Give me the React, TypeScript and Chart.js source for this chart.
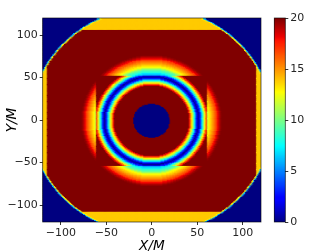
import React, { useEffect, useRef } from "react";
import { Chart, registerables } from "chart.js";

Chart.register(...registerables);

// Axis ticks
const xTicks = [-100, -50, 0, 50, 100];
const yTicks = [-100, -50, 0, 50, 100];
const cbTicks = [0, 5, 10, 15, 20];

// Field values, one entry per unit of radius
const innerRadiusStart = 40;
const innerProfile = [20, 20, 18.5, 16.5, 14.5, 13, 11, 9, 7, 5, 3, 1.5, 0.4, 1.5, 3, 5, 7, 9, 11, 13, 15, 17, 18.5, 20];
const outerRadiusStart = 50;
const outerProfile = [3, 3.5, 4, 5, 5.5, 6.5, 7, 8, 8.5, 9, 9.5, 10.5, 11.5, 12.5, 13, 13.5, 14, 14.5, 15, 15.5, 16, 16.5, 17, 18, 18.5, 19, 19.5, 19.8, 20];
const rimRadiusStart = 131;
const rimProfile = [20, 13, 6, 0];
const holeRadius = 20;
const bandValue = 13.9;
const innerBox = [61, 53];
const outerBox = [115, 107];
const gridHalf = 120;

// matplotlib jet stops: position, r, g, b
const jetStops = [
  [0, 0, 0, 0.5], [0.11, 0, 0, 1], [0.125, 0, 0, 1], [0.34, 0, 0.86, 1], [0.35, 0, 0.9, 1], [0.375, 0.0, 1, 1],
  [0.64, 1, 1, 0], [0.65, 1, 0.96, 0], [0.66, 1, 0.92, 0], [0.89, 1, 0.08, 0], [0.91, 0.93, 0, 0], [1, 0.5, 0, 0],
];

function jet(value: number): string {
  const t = Math.min(1, Math.max(0, value / 20));
  let i = 0;
  while (i < jetStops.length - 2 && t > jetStops[i + 1][0]) i++;
  const a = jetStops[i];
  const b = jetStops[i + 1];
  const f = (t - a[0]) / (b[0] - a[0] || 1);
  const c = [1, 2, 3].map((k) => Math.round(255 * (a[k] + (b[k] - a[k]) * f)));
  return `rgb(${c[0]},${c[1]},${c[2]})`;
}

function lookup(table: number[], start: number, r: number): number {
  const i = Math.round(r) - start;
  return table[Math.min(table.length - 1, Math.max(0, i))];
}

function cellValue(x: number, y: number): number {
  const r = Math.hypot(x, y);
  if (r <= holeRadius) return 0;
  let v: number;
  if (Math.abs(x) < innerBox[0] && Math.abs(y) < innerBox[1]) v = lookup(innerProfile, innerRadiusStart, r);
  else if (Math.abs(x) < outerBox[0] && Math.abs(y) < outerBox[1]) v = lookup(outerProfile, outerRadiusStart, r);
  else v = bandValue;
  if (r >= rimRadiusStart) v = Math.min(v, lookup(rimProfile, rimRadiusStart, r));
  return v;
}

const cells: { x: number; y: number }[] = [];
const cellColors: string[] = [];
for (let y = -gridHalf + 0.5; y < gridHalf; y++) {
  for (let x = -gridHalf + 0.5; x < gridHalf; x++) {
    cells.push({ x, y });
    cellColors.push(jet(cellValue(x, y)));
  }
}

const cbLevels: { x: number; y: number }[] = [];
for (let v = 0.05; v < 20; v += 0.1) cbLevels.push({ x: 1, y: v });

const fontFamily = "'DejaVu Sans'";
const frame = {
  id: "frame",
  afterDraw(chart: any) {
    const { left, top, width, height } = chart.chartArea;
    const ctx = chart.ctx;
    ctx.save();
    ctx.strokeStyle = "rgba(0,0,0,0.75)";
    ctx.lineWidth = 0.8;
    ctx.strokeRect(left, top, width, height);
    ctx.restore();
  },
};

const minus = (v: any) => String(v).replace("-", "\u2212");

export default function App() {
  const mainRef = useRef<HTMLCanvasElement>(null);
  const barRef = useRef<HTMLCanvasElement>(null);

  useEffect(() => {
    const main = new Chart(mainRef.current!, {
      type: "scatter",
      data: {
        datasets: [
          {
            data: cells,
            parsing: false,
            normalized: true,
            pointStyle: "rect",
            pointRadius: 1.45,
            pointBorderWidth: 0,
            pointBackgroundColor: cellColors,
          } as any,
        ],
      },
      plugins: [frame],
      options: {
        responsive: false,
        animation: false,
        events: [],
        layout: { padding: { left: 0, top: 18, right: 50, bottom: 0 } },
        plugins: { legend: { display: false }, tooltip: { enabled: false } },
        scales: {
          x: {
            type: "linear",
            min: -120,
            max: 120,
            afterBuildTicks: (s: any) => { s.ticks = xTicks.map((value) => ({ value })); },
            afterFit: (s: any) => { s.height = 29; },
            grid: { drawOnChartArea: false, drawTicks: true, tickLength: 3, tickColor: "#000", tickWidth: 0.8 },
            border: { display: false },
            ticks: { autoSkip: false, maxRotation: 0, padding: 2, color: "#262626", font: { family: fontFamily, size: 11 }, callback: minus },
            title: { display: true, text: "X/M", color: "#000", padding: { top: 0, bottom: -4 }, font: { family: fontFamily, size: 13.6, style: "italic" } },
          },
          y: {
            type: "linear",
            min: -120,
            max: 120,
            afterBuildTicks: (s: any) => { s.ticks = yTicks.map((value) => ({ value })); },
            afterFit: (s: any) => { s.width = 42.7; },
            grid: { drawOnChartArea: false, drawTicks: true, tickLength: 3, tickColor: "#000", tickWidth: 0.8 },
            border: { display: false },
            ticks: { autoSkip: false, padding: 2, color: "#262626", font: { family: fontFamily, size: 11 }, callback: minus },
            title: { display: true, text: "Y/M", color: "#000", padding: { top: 4, bottom: 0 }, font: { family: fontFamily, size: 13.6, style: "italic" } },
          },
        },
      },
    } as any);

    const bar = new Chart(barRef.current!, {
      type: "bar",
      data: {
        datasets: [
          {
            data: cbLevels,
            backgroundColor: cbLevels.map((p) => jet(p.y)),
            barThickness: 1.6,
            borderWidth: 0,
          } as any,
        ],
      },
      plugins: [frame],
      options: {
        indexAxis: "y",
        responsive: false,
        animation: false,
        events: [],
        layout: { padding: { left: 274.3, top: 18, right: 0, bottom: 29 } },
        plugins: { legend: { display: false }, tooltip: { enabled: false } },
        scales: {
          x: { type: "linear", min: 0, max: 1, display: false },
          y: {
            type: "linear",
            position: "right",
            min: 0,
            max: 20,
            offset: false,
            afterBuildTicks: (s: any) => { s.ticks = cbTicks.map((value) => ({ value })); },
            afterFit: (s: any) => { s.width = 25.7; },
            grid: { offset: false, drawOnChartArea: false, drawTicks: true, tickLength: 3, tickColor: "#000", tickWidth: 0.8 },
            border: { display: false },
            ticks: { autoSkip: false, padding: 2, color: "#262626", font: { family: fontFamily, size: 11 } },
          },
        },
      },
    } as any);

    return () => {
      main.destroy();
      bar.destroy();
    };
  }, []);

  const style: React.CSSProperties = { position: "absolute", left: 0, top: 0 };
  return (
    <div style={{ position: "fixed", left: 0, top: 0, width: 311, height: 251, overflow: "hidden", background: "#fff" }}>
      <canvas ref={mainRef} width={311} height={251} style={style} />
      <canvas ref={barRef} width={311} height={251} style={style} />
    </div>
  );
}
